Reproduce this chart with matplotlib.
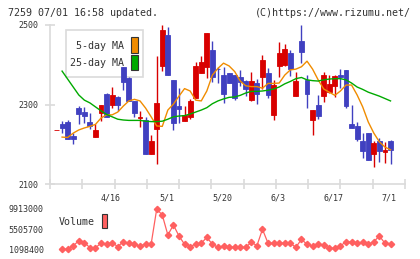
import matplotlib
matplotlib.use("Agg")
import matplotlib.pyplot as plt
from matplotlib.patches import Rectangle
import numpy as np

# daily candles (index 0 .. 60)
opens = [2235, 2251, 2256, 2222, 2290, 2281, 2256, 2218, 2278, 2326,
         2298, 2319, 2394, 2367, 2310, 2267, 2261, 2176, 2239, 2398,
         2475, 2362, 2296, 2259, 2269, 2317, 2380, 2394, 2437, 2390,
         2374, 2380, 2374, 2370, 2359, 2311, 2353, 2370, 2380, 2274,
         2398, 2399, 2430, 2321, 2460, 2362, 2261, 2299, 2321, 2331,
         2347, 2374, 2387, 2251, 2246, 2208, 2228, 2176, 2208, 2181,
         2208]
closes = [2236, 2241, 2213, 2212, 2276, 2271, 2246, 2236, 2299, 2269,
          2324, 2298, 2357, 2310, 2279, 2268, 2176, 2208, 2304, 2487,
          2375, 2254, 2289, 2274, 2310, 2398, 2408, 2480, 2370, 2389,
          2326, 2355, 2317, 2357, 2340, 2359, 2326, 2412, 2324, 2349,
          2430, 2440, 2390, 2359, 2432, 2326, 2286, 2271, 2374, 2352,
          2372, 2369, 2296, 2242, 2213, 2184, 2161, 2203, 2184, 2186,
          2186]
highs = [2236, 2259, 2261, 2228, 2296, 2293, 2279, 2250, 2299, 2330,
         2345, 2321, 2394, 2370, 2310, 2284, 2268, 2223, 2422, 2500,
         2495, 2362, 2341, 2296, 2315, 2408, 2422, 2480, 2460, 2395,
         2395, 2380, 2374, 2387, 2362, 2383, 2363, 2425, 2393, 2362,
         2457, 2452, 2437, 2383, 2500, 2374, 2286, 2324, 2383, 2374,
         2374, 2389, 2387, 2299, 2256, 2228, 2228, 2208, 2216, 2206,
         2211]
lows = [2235, 2228, 2213, 2200, 2250, 2253, 2238, 2218, 2259, 2268,
        2290, 2284, 2336, 2310, 2269, 2243, 2176, 2176, 2150, 2384,
        2375, 2237, 2253, 2259, 2263, 2317, 2380, 2366, 2357, 2353,
        2303, 2353, 2311, 2347, 2321, 2309, 2301, 2338, 2317, 2261,
        2370, 2398, 2372, 2321, 2405, 2292, 2223, 2263, 2307, 2330,
        2320, 2341, 2292, 2242, 2209, 2166, 2161, 2143, 2156, 2154,
        2151]

# moving averages (index 1 .. 60)
ma5 = [2218, 2217, 2228, 2236, 2241, 2245, 2250, 2266, 2274, 2274,
       2281, 2296, 2309, 2313, 2309, 2291, 2269, 2246, 2245, 2286,
       2301, 2321, 2340, 2334, 2311, 2309, 2334, 2374, 2391, 2404,
       2397, 2383, 2359, 2347, 2345, 2345, 2341, 2353, 2353, 2354,
       2374, 2387, 2389, 2395, 2409, 2389, 2362, 2339, 2331, 2323,
       2334, 2349, 2349, 2324, 2294, 2256, 2228, 2206, 2193, 2186]
ma25 = [2384, 2364, 2344, 2324, 2311, 2304, 2294, 2284, 2275, 2269,
        2263, 2261, 2260, 2260, 2260, 2258, 2257, 2257, 2258, 2263,
        2269, 2271, 2272, 2276, 2281, 2286, 2292, 2302, 2309, 2314,
        2318, 2319, 2323, 2329, 2333, 2333, 2334, 2336, 2339, 2344,
        2352, 2358, 2365, 2368, 2362, 2360, 2359, 2362, 2364, 2365,
        2365, 2362, 2354, 2344, 2338, 2331, 2326, 2321, 2315, 2309]

# volume (index 1 .. 60)
volume = [1098400, 1120000, 1830000, 2990000, 2560000, 1460000, 1460000, 2410000, 2190000, 2560000,
          1680000, 2770000, 2410000, 2190000, 1830000, 2260000, 2260000, 9913000, 8600000, 4230000,
          6420000, 4010000, 2190000, 1680000, 2260000, 2410000, 3720000, 2190000, 1540000, 1830000,
          1540000, 1540000, 1540000, 1540000, 2630000, 1900000, 5470000, 2410000, 2410000, 2410000,
          2410000, 2410000, 1540000, 3280000, 2190000, 1830000, 2260000, 2050000, 1320000, 1320000,
          1830000, 2770000, 2630000, 2410000, 2630000, 2190000, 2770000, 4010000, 2410000, 2190000]

date_pos = [10, 20, 30, 40, 50, 60]
date_labels = ["4/16", "5/1", "5/20", "6/3", "6/17", "7/1"]
price_ticks = [2100, 2300, 2500]
vol_ticks = [1098400, 5505700, 9913000]

RED = "#d80000"
BLUE = "#4040c0"
ORANGE = "#f08c00"
GREEN = "#00aa00"
VOLC = "#ff6060"
GRID = "#dadada"
TXT = "#333333"
MONO = "DejaVu Sans Mono"

W, H = 420, 259
fig = plt.figure(figsize=(W / 100, H / 100), dpi=100)

# overlay in pixel coordinates for title/legends (drawn underneath)
ov = fig.add_axes([0, 0, 1, 1], zorder=0)
ov.set_xlim(0, W)
ov.set_ylim(H, 0)
ov.axis("off")

def px_axes(x0, y0, x1, y1, **kw):
    return fig.add_axes([x0 / W, 1 - y1 / H, (x1 - x0) / W, (y1 - y0) / H], **kw)

xlim = (-1.17, 62.6)

# price panel
ax = px_axes(50, 25, 405, 184, zorder=1)
ax.patch.set_alpha(0)
idx = np.arange(len(opens))
for i in idx:
    o, c, h, l = opens[i], closes[i], highs[i], lows[i]
    col = RED if c > o else BLUE
    if h > l:
        ax.vlines(i, l, h, color=col, lw=1.0, zorder=3)
    ax.bar(i, abs(c - o), bottom=min(o, c), width=0.88, color=col,
           edgecolor=col, linewidth=0.6, zorder=4)
ma_x = np.arange(1, len(ma5) + 1)
ax.plot(ma_x, ma5, color=ORANGE, lw=1.0, zorder=5)
ax.plot(ma_x, ma25, color=GREEN, lw=1.0, zorder=5)

ax.set_xlim(*xlim)
ax.set_ylim(2100, 2500)
for s in ["top", "right"]:
    ax.spines[s].set_visible(False)
for s in ["left", "bottom"]:
    ax.spines[s].set_color(GRID)
    ax.spines[s].set_linewidth(1.2)
ax.set_yticks(price_ticks)
ax.set_yticklabels([str(t) for t in price_ticks], fontsize=6, family=MONO, color=TXT)
ax.set_xticks(np.linspace(xlim[0], xlim[1], 12))
ax.set_xticklabels([])
ax.tick_params(axis="both", direction="inout", length=7, width=1.2, color=GRID)
ax.tick_params(axis="y", pad=5)
for p, lab in zip(date_pos, date_labels):
    ax.text(p - 0.25, -0.091, lab, transform=ax.get_xaxis_transform(),
            ha="center", va="center", fontsize=6, family=MONO, color=TXT)

# volume panel
vax = px_axes(50, 205, 405, 253, zorder=1)
vax.patch.set_alpha(0)
vx = np.arange(1, len(volume) + 1)
vax.plot(vx, volume, color=VOLC, lw=0.9, marker="D", markersize=3.2,
         markerfacecolor=VOLC, markeredgecolor=VOLC)
vax.set_xlim(*xlim)
vax.set_ylim(289100, 10787900)
for s in vax.spines.values():
    s.set_visible(False)
vax.set_xticks([])
vax.set_yticks(vol_ticks)
vax.set_yticklabels([str(t) for t in vol_ticks], fontsize=6, family=MONO, color=TXT)
vax.tick_params(axis="y", length=0, pad=4.5)

# header
ov.text(8, 13, "7259 07/01 16:58 updated.", fontsize=7.2, family=MONO,
        color=TXT, ha="left", va="center")
ov.text(411, 13, "(C)https://www.rizumu.net/", fontsize=7.2, family=MONO,
        color=TXT, ha="right", va="center")

# MA legend
ov.add_patch(Rectangle((65.7, 30), 77.6, 47.3, facecolor="white",
                       edgecolor=GRID, lw=1.2))
ov.text(124, 46, "5-day MA", fontsize=7.2, family=MONO, color=TXT,
        ha="right", va="center")
ov.text(124, 63.3, "25-day MA", fontsize=7.2, family=MONO, color=TXT,
        ha="right", va="center")
ov.add_patch(Rectangle((131, 37), 6.5, 15.5, facecolor=ORANGE,
                       edgecolor="#333333", lw=0.8))
ov.add_patch(Rectangle((131, 54.5), 6.5, 15, facecolor=GREEN,
                       edgecolor="#333333", lw=0.8))

# volume legend
ov.text(59, 222, "Volume", fontsize=7.2, family=MONO, color=TXT,
        ha="left", va="center")
ov.add_patch(Rectangle((101.7, 213.5), 5.6, 14.5, facecolor=VOLC,
                       edgecolor="#333333", lw=0.8))

fig.savefig("out.png", dpi=100)
